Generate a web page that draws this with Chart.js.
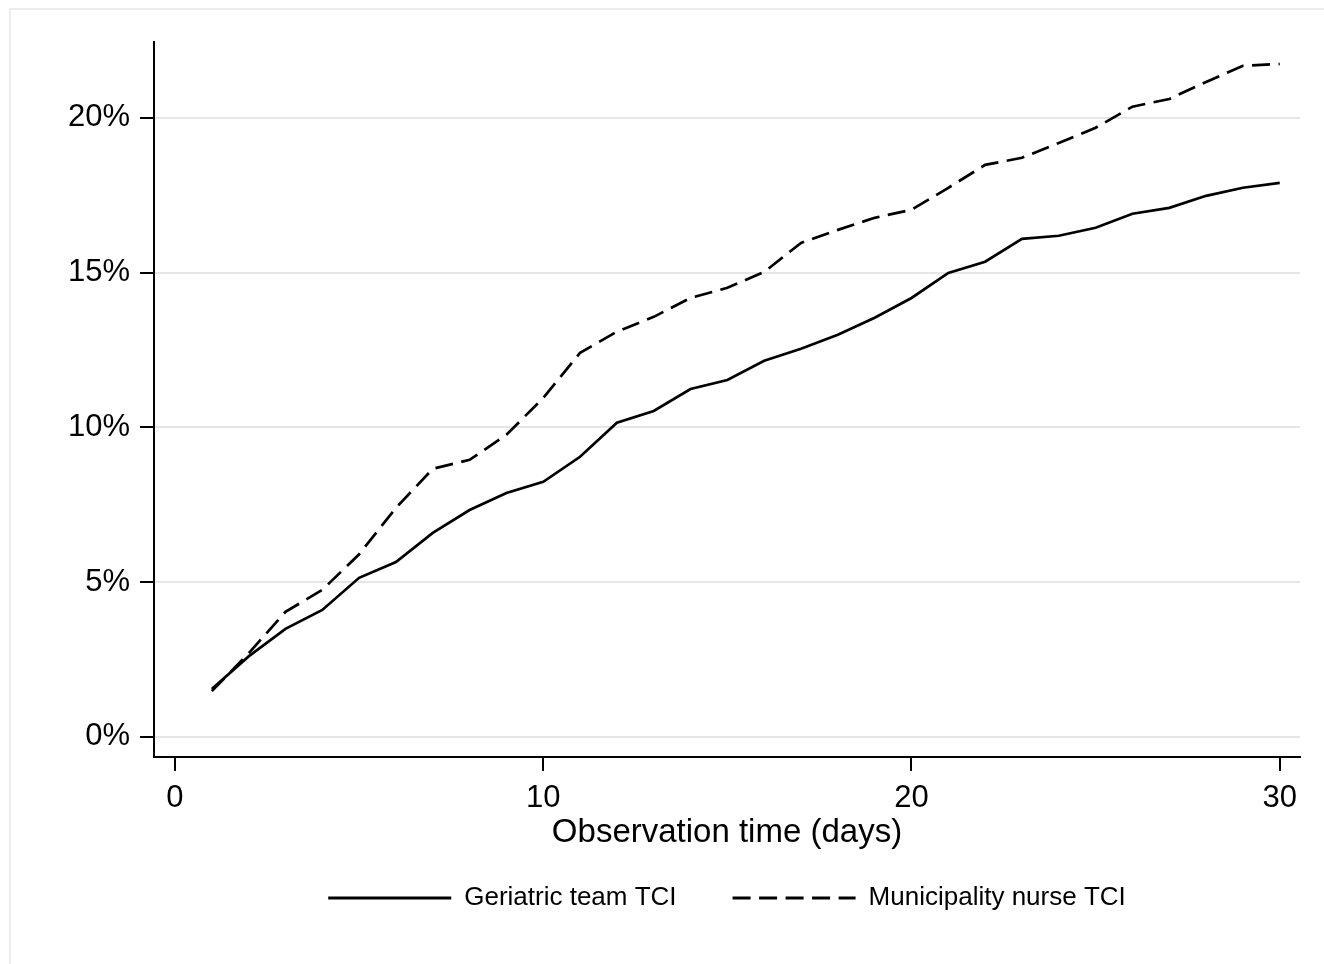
<!DOCTYPE html>
<html>
<head>
<meta charset="utf-8">
<script src="https://cdn.jsdelivr.net/npm/chart.js@4.4.1/dist/chart.umd.min.js"></script>
<style>
  html, body { margin: 0; padding: 0; background: #fff; }
  #wrap { width: 1324px; height: 964px; }
</style>
</head>
<body>
<div id="wrap"><canvas id="chart" width="1324" height="964"></canvas></div>
<script>
// observation day
const days = [1, 2, 3, 4, 5, 6, 7, 8, 9, 10, 11, 12, 13, 14, 15, 16, 17, 18, 19, 20, 21, 22, 23, 24, 25, 26, 27, 28, 29, 30]

// cumulative incidence in %
const geriatric = [1.55, 2.6, 3.49, 4.1, 5.14, 5.65, 6.59, 7.33, 7.88, 8.24, 9.05, 10.15, 10.53, 11.24, 11.53, 12.15, 12.54, 12.99, 13.54, 14.18, 14.99, 15.35, 16.09, 16.19, 16.45, 16.9, 17.09, 17.48, 17.74, 17.9]
const municipality = [1.48, 2.7, 4.04, 4.75, 5.9, 7.4, 8.66, 8.95, 9.76, 10.95, 12.41, 13.09, 13.57, 14.18, 14.51, 15.02, 15.96, 16.38, 16.77, 17.03, 17.74, 18.48, 18.71, 19.19, 19.68, 20.36, 20.61, 21.16, 21.68, 21.74]

const seriesNames = ["Geriatric team TCI", "Municipality nurse TCI"]
const xTicks = [0, 10, 20, 30]
const yTicks = [0, 5, 10, 15, 20]
const xTitle = "Observation time (days)"

const FONT = "'Liberation Sans', Arial, Helvetica, sans-serif"

const background = {
  id: "background",
  beforeDraw(chart) {
    const ctx = chart.ctx
    ctx.save()
    ctx.fillStyle = "#fff"
    ctx.fillRect(0, 0, chart.width, chart.height)
    // faint frame of the exported graph
    ctx.strokeStyle = "#ececec"
    ctx.lineWidth = 2
    ctx.beginPath()
    ctx.moveTo(10, chart.height)
    ctx.lineTo(10, 9)
    ctx.lineTo(chart.width, 9)
    ctx.stroke()
    ctx.restore()
  }
}

// legend items take the line style of the dataset, not of its points
function legendItems(chart) {
  const items = Chart.defaults.plugins.legend.labels.generateLabels(chart)
  items.forEach((item) => {
    const ds = chart.data.datasets[item.datasetIndex]
    item.lineDash = ds.borderDash || []
    item.lineWidth = 3
    item.strokeStyle = ds.borderColor
  })
  return items
}

new Chart(document.getElementById("chart"), {
  type: "line",
  data: {
    datasets: [
      {
        label: seriesNames[0],
        data: days.map((d, i) => ({ x: d, y: geriatric[i] })),
        borderColor: "#000",
        backgroundColor: "#000",
        borderWidth: 2.7,
        pointRadius: 0,
        tension: 0,
        fill: false
      },
      {
        label: seriesNames[1],
        data: days.map((d, i) => ({ x: d, y: municipality[i] })),
        borderColor: "#000",
        backgroundColor: "#000",
        borderWidth: 2.7,
        borderDash: [18, 8.5],
        pointRadius: 0,
        tension: 0,
        fill: false
      }
    ]
  },
  options: {
    responsive: false,
    animation: false,
    devicePixelRatio: 1,
    layout: { padding: { left: 10, top: 42, right: 24, bottom: 43 } },
    plugins: {
      tooltip: { enabled: false },
      legend: {
        position: "bottom",
        fullSize: false,
        labels: {
          usePointStyle: true,
          pointStyle: "line",
          pointStyleWidth: 123,
          padding: 56,
          color: "#000",
          font: { size: 26, family: FONT },
          generateLabels: legendItems
        }
      }
    },
    scales: {
      x: {
        type: "linear",
        min: -0.57,
        max: 30.55,
        afterBuildTicks: (s) => { s.ticks = xTicks.map((v) => ({ value: v })) },
        afterFit: (s) => { s.height = 72 },
        grid: { drawOnChartArea: false, drawTicks: true, tickLength: 14, tickColor: "#000", tickWidth: 2, lineWidth: 2, color: "#000" },
        border: { display: true, color: "#000", width: 2 },
        ticks: { color: "#000", padding: 9, maxRotation: 0, font: { size: 31, family: FONT } },
        title: { display: true, text: xTitle, color: "#000", font: { size: 33, family: FONT }, padding: { top: 0, bottom: -24 } }
      },
      y: {
        min: -0.65,
        max: 22.45,
        afterBuildTicks: (s) => { s.ticks = yTicks.map((v) => ({ value: v })) },
        afterFit: (s) => { s.width = 144 },
        grid: { color: "#e6e6e6", lineWidth: 2, drawTicks: true, tickLength: 14, tickColor: "#000", tickWidth: 2 },
        border: { display: true, color: "#000", width: 2 },
        ticks: { color: "#000", padding: 10, font: { size: 31, family: FONT }, callback: (v) => v + "%" }
      }
    }
  },
  plugins: [background]
})
</script>
</body>
</html>
